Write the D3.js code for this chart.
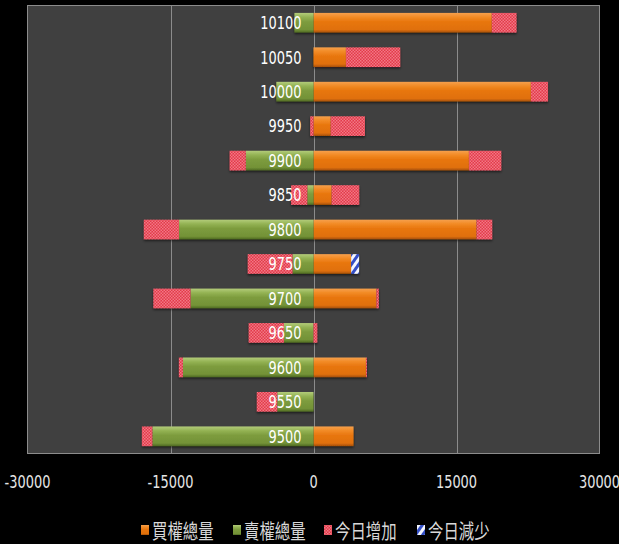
<!DOCTYPE html>
<html>
<head>
<meta charset="utf-8">
<script src="https://cdn.jsdelivr.net/npm/d3@7"></script>
<style>
  html, body { margin: 0; padding: 0; background: #000; }
  svg { display: block; }
</style>
</head>
<body>
<script>
// strike prices, top to bottom
const strikes = ["10100", "10050", "10000", "9950", "9900", "9850", "9800", "9750", "9700", "9650", "9600", "9550", "9500"];

// open interest
const callTotal = [18700, 3400, 22800, 1800, 16300, 1900, 17100, 3950, 6600, 0, 5500, 0, 4200];
const putTotal  = [2000, 0, 3900, 0, 7100, 650, 14100, 2200, 12900, 3100, 13700, 3800, 16900];
const callAdd   = [2600, 5700, 1800, 3600, 3400, 2900, 1650, 0, 250, 400, 100, 0, 0];
const putAdd    = [0, 0, 0, 350, 1700, 1700, 3700, 4700, 3900, 3700, 420, 2150, 1100];
const callSub   = [0, 0, 0, 0, 0, 0, 0, 830, 0, 0, 0, 0, 0];
const putSub    = [0, 0, 0, 0, 0, 0, 0, 0, 0, 0, 0, 0, 0];

const xTicks = [-30000, -15000, 0, 15000, 30000];
const legendNames = ["買權總量", "賣權總量", "今日增加", "今日減少"];

const W = 619, H = 544;
const plot = { left: 27.5, right: 599.5, top: 5.5, bottom: 453.5 };

const rows = strikes.map((s, i) => ({
    strike: s,
    callTotal: callTotal[i],
    putTotal: -putTotal[i],
    callAdd: callAdd[i],
    putAdd: -putAdd[i],
    callSub: callSub[i],
    putSub: -putSub[i]
}));

const keys = ["callTotal", "putTotal", "callAdd", "putAdd", "callSub", "putSub"];
const fillOf = {
    callTotal: "url(#gOrange)", putTotal: "url(#gGreen)",
    callAdd: "url(#pRed)", putAdd: "url(#pRed)",
    callSub: "url(#pBlue)", putSub: "url(#pBlue)"
};

const series = d3.stack().keys(keys).offset(d3.stackOffsetDiverging)(rows);

const x = d3.scaleLinear().domain([-30000, 30000]).range([plot.left, plot.right]);
const y = d3.scaleBand().domain(strikes).range([plot.top, plot.bottom]).paddingInner(0.43).paddingOuter(0.215);

const svg = d3.select("body").append("svg").attr("width", W).attr("height", H);
svg.append("rect").attr("width", W).attr("height", H).attr("fill", "#000");

const defs = svg.append("defs");

function vGrad(id, stops) {
    const g = defs.append("linearGradient").attr("id", id)
        .attr("x1", 0).attr("y1", 0).attr("x2", 0).attr("y2", 1);
    stops.forEach(([o, c]) => g.append("stop").attr("offset", o).attr("stop-color", c));
}
vGrad("gOrange", [[0, "#f6a04c"], [0.22, "#f28a24"], [0.45, "#e8760e"], [0.85, "#e0700a"], [1, "#a65006"]]);
vGrad("gGreen", [[0, "#b3cc7a"], [0.22, "#93b253"], [0.45, "#7d9c3e"], [0.85, "#739237"], [1, "#4f6a22"]]);

// red checkered hatch
const pr = defs.append("pattern").attr("id", "pRed")
    .attr("patternUnits", "userSpaceOnUse").attr("width", 3).attr("height", 3);
pr.append("rect").attr("width", 3).attr("height", 3).attr("fill", "#e23a4a");
pr.append("rect").attr("width", 1.5).attr("height", 1.5).attr("fill", "#f27884");
pr.append("rect").attr("x", 1.5).attr("y", 1.5).attr("width", 1.5).attr("height", 1.5).attr("fill", "#f27884");

// blue diagonal stripes
const pb = defs.append("pattern").attr("id", "pBlue")
    .attr("patternUnits", "userSpaceOnUse").attr("width", 6).attr("height", 6)
    .attr("patternTransform", "rotate(35)");
pb.append("rect").attr("width", 6).attr("height", 6).attr("fill", "#f4f6ff");
pb.append("rect").attr("width", 3).attr("height", 6).attr("fill", "#3450c8");

const shadow = defs.append("filter").attr("id", "shadow")
    .attr("x", "-10%").attr("y", "-30%").attr("width", "120%").attr("height", "180%");
shadow.append("feDropShadow").attr("dx", 0).attr("dy", 1.5).attr("stdDeviation", 1)
    .attr("flood-color", "#000").attr("flood-opacity", 0.6);

// plot area
svg.append("rect")
    .attr("x", plot.left).attr("y", plot.top)
    .attr("width", plot.right - plot.left).attr("height", plot.bottom - plot.top)
    .attr("fill", "#404040").attr("stroke", "#8c8c8c").attr("stroke-width", 1);

// vertical gridlines
svg.append("g").selectAll("line")
    .data(xTicks.filter(t => t > -30000 && t < 30000))
    .join("line")
    .attr("x1", d => Math.round(x(d)) + 0.5).attr("x2", d => Math.round(x(d)) + 0.5)
    .attr("y1", plot.top).attr("y2", plot.bottom)
    .attr("stroke", "#8c8c8c").attr("stroke-width", 1);

// bars
const bars = svg.append("g").attr("filter", "url(#shadow)");
bars.selectAll("g")
    .data(series)
    .join("g")
    .attr("fill", d => fillOf[d.key])
    .selectAll("rect")
    .data(d => d.filter(v => v[1] !== v[0]))
    .join("rect")
    .attr("x", d => x(Math.min(d[0], d[1])))
    .attr("width", d => Math.abs(x(d[1]) - x(d[0])))
    .attr("y", d => y(d.data.strike))
    .attr("height", y.bandwidth());

// strike labels next to zero line
const fontNum = "'DejaVu Sans', Verdana, sans-serif";
svg.append("g").selectAll("g")
    .data(strikes)
    .join("g")
    .attr("transform", d => `translate(${x(0) - 12}, ${y(d) + y.bandwidth() / 2}) scale(0.7, 1)`)
    .append("text")
    .attr("text-anchor", "end")
    .attr("dominant-baseline", "central")
    .attr("font-family", fontNum)
    .attr("font-size", 18.5)
    .attr("fill", "#ffffff")
    .text(d => d);

// x axis labels
svg.append("g").selectAll("g")
    .data(xTicks)
    .join("g")
    .attr("transform", d => `translate(${x(d)}, 482) scale(0.7, 1)`)
    .append("text")
    .attr("text-anchor", "middle")
    .attr("dominant-baseline", "central")
    .attr("font-family", fontNum)
    .attr("font-size", 18.5)
    .attr("fill", "#e6e6e6")
    .text(d => d);

// legend
const legendFills = ["url(#gOrange)", "url(#gGreen)", "url(#pRed)", "url(#pBlue)"];
const legendX = [141, 233, 324, 417];
const legend = svg.append("g").selectAll("g")
    .data(legendNames)
    .join("g")
    .attr("transform", (d, i) => `translate(${legendX[i]}, 530)`);
legend.append("rect")
    .attr("x", 0).attr("y", -5).attr("width", 8).attr("height", 10)
    .attr("fill", (d, i) => legendFills[i]);
legend.append("g")
    .attr("transform", "translate(11, 0) scale(0.77, 1)")
    .append("text")
    .attr("dominant-baseline", "central")
    .attr("font-family", "'Noto Sans CJK TC', 'Noto Sans CJK SC', sans-serif")
    .attr("font-size", 20)
    .attr("fill", "#d9d9d9")
    .text(d => d);
</script>
</body>
</html>
